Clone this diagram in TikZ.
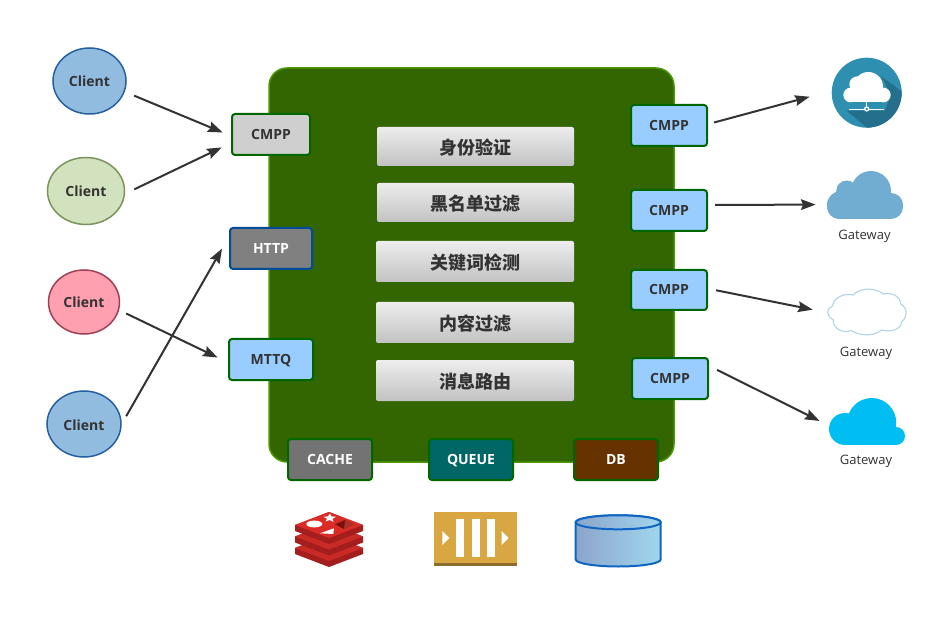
\documentclass[tikz,border=0pt]{standalone}
\usepackage{fontspec}
\setmainfont{Open Sans}
\newfontfamily\cjk{Noto Sans CJK SC}
\usetikzlibrary{arrows.meta,shapes.geometric}
\definecolor{ink}{HTML}{333333}
\definecolor{edgegreen}{HTML}{006600}
\definecolor{sky}{HTML}{99CCFF}
\definecolor{panelfill}{RGB}{51,102,0}
\definecolor{paneledge}{RGB}{77,153,0}
\definecolor{bluefill}{RGB}{146,187,224}
\definecolor{blueedge}{RGB}{38,96,158}
\definecolor{greenfill}{RGB}{211,226,190}
\definecolor{greenedge}{RGB}{122,148,92}
\definecolor{pinkfill}{RGB}{255,160,176}
\definecolor{pinkedge}{RGB}{160,64,84}
\definecolor{lightgrey}{RGB}{207,207,207}
\definecolor{midgrey}{RGB}{128,128,128}
\definecolor{httpedge}{RGB}{0,76,153}
\definecolor{cachefill}{RGB}{115,115,115}
\definecolor{queuefill}{RGB}{0,102,102}
\definecolor{dbfill}{RGB}{102,51,0}
\definecolor{netblue}{RGB}{46,143,176}
\definecolor{netshadow}{RGB}{36,112,140}
\definecolor{cloudblue}{RGB}{113,173,208}
\definecolor{cloudline}{RGB}{175,212,230}
\definecolor{cloudcyan}{RGB}{0,190,242}
\definecolor{rdark}{HTML}{A41E1E}
\definecolor{rmid}{HTML}{C92A26}
\definecolor{rtop}{HTML}{D92C26}
\definecolor{rhole}{RGB}{122,16,10}
\definecolor{rholelight}{RGB}{170,50,40}
\definecolor{qgold}{RGB}{217,167,65}
\definecolor{qbrown}{RGB}{140,109,48}
\definecolor{cylleft}{RGB}{140,165,203}
\definecolor{cylright}{RGB}{160,214,238}
\definecolor{cyledge}{RGB}{14,102,194}
\definecolor{bartop}{gray}{0.93}
\definecolor{barbottom}{gray}{0.76}
\tikzset{
  lbl/.style={font=\fontsize{10.5}{12}\selectfont\bfseries,text=ink,text height=7.5pt,text depth=0pt},
  client/.style={ellipse,lbl,text height=9pt,draw,line width=1.5*.75pt,inner sep=0pt},
  proto/.style={rectangle,rounded corners=3*.75pt,draw=edgegreen,line width=2*.75pt,lbl,inner sep=0pt,minimum width=76*.75pt,minimum height=41*.75pt},
  store/.style={proto,text=white,minimum width=84*.75pt},
  bar/.style={rectangle,rounded corners=2*.75pt,top color=bartop,bottom color=barbottom,inner sep=0pt,text=ink,font=\cjk\fontsize{13.5}{16}\selectfont\bfseries,text height=12.4pt,text depth=0pt,minimum width=197*.75pt},
  hold/.style={rectangle,inner sep=0pt},
  gw/.style={font=\fontsize{9.75}{12}\selectfont,text=ink,inner sep=0pt},
  link/.style={draw=ink,line width=1.5pt,-{Stealth[length=11pt,width=8pt,inset=1.5pt]}},
  cyl/.style={left color=cylleft,right color=cylright,draw=cyledge,line width=1.5pt},
}
\begin{document}
\begin{tikzpicture}[x=.75pt,y=-.75pt]
\useasboundingbox (0,0) rectangle (938,623);
\fill[white] (0,0) rectangle (938,623);

% core panel
\node[rectangle,rounded corners=18*.75pt,fill=panelfill,draw=paneledge,line width=1.5*.75pt,inner sep=0pt,minimum width=405*.75pt,minimum height=394*.75pt] (core) at (471.5,265) {};

% filter bars
\node[bar,minimum height=39*.75pt] (b1) at (475.5,146.5) {身份验证};
\node[bar,minimum height=39*.75pt] (b2) at (475.5,202.5) {黑名单过滤};
\node[bar,minimum width=198*.75pt,minimum height=41*.75pt] (b3) at (475,261.5) {关键词检测};
\node[bar,minimum width=198*.75pt,minimum height=41*.75pt] (b4) at (475,322.5) {内容过滤};
\node[bar,minimum width=198*.75pt,minimum height=41*.75pt] (b5) at (475,380.5) {消息路由};

% clients
\node[client,fill=bluefill,draw=blueedge,minimum width=73*.75pt,minimum height=66*.75pt] (c1) at (89.5,81) {Client};
\node[client,fill=greenfill,draw=greenedge,minimum width=77*.75pt,minimum height=67*.75pt] (c2) at (86,191) {Client};
\node[client,fill=pinkfill,draw=pinkedge,minimum width=71*.75pt,minimum height=64*.75pt] (c3) at (84,302) {Client};
\node[client,fill=bluefill,draw=blueedge,minimum width=74*.75pt,minimum height=66*.75pt] (c4) at (84,424) {Client};

% left protocol boxes
\node[proto,fill=lightgrey,minimum width=78*.75pt] (cmppa) at (271,134.5) {CMPP};
\node[proto,fill=midgrey,draw=httpedge,text=white,minimum width=82*.75pt] (http) at (271,248.5) {HTTP};
\node[proto,fill=sky,minimum width=84*.75pt] (mttq) at (271,359.5) {MTTQ};

% right protocol boxes
\node[proto,fill=sky] (cmppb) at (669,125.5) {CMPP};
\node[proto,fill=sky] (cmppc) at (669,210.5) {CMPP};
\node[proto,fill=sky,minimum height=40*.75pt] (cmppd) at (669,290) {CMPP};
\node[proto,fill=sky] (cmppe) at (670,378.5) {CMPP};

% storage boxes
\node[store,fill=cachefill] (cache) at (330,459.5) {CACHE};
\node[store,fill=queuefill] (queue) at (471,459.5) {QUEUE};
\node[store,fill=dbfill] (db) at (616,459.5) {DB};

% network cloud icon
\node[circle,fill=netblue,inner sep=0pt,minimum size=70*.75pt] (net) at (866.7,92.7) {};
\begin{scope}[shift={(800,40)},x=.25pt,y=-.25pt]
  \begin{scope}
    \clip (200,158) circle[radius=105];
    \fill[netshadow] (245,110) -- (320,165) -- (320,275) -- (215,275) -- (140,212) -- (255,212) -- (272,165) -- cycle;
  \end{scope}
  \fill[white] (205,140) circle[radius=44];
  \fill[white] (172,133) circle[radius=24];
  \fill[white] (152,165) circle[radius=22];
  \fill[white] (250,165) circle[radius=22];
  \fill[white] (152,143) rectangle (250,187);
  \draw[white,line width=1pt] (200,187) -- (200,207);
  \draw[white,line width=1pt] (147,208) -- (253,208);
  \fill[white] (200,207) circle[radius=8];
  \fill[netblue] (200,207) circle[radius=4];
\end{scope}

% solid blue-grey cloud
\node[hold,minimum width=76*.75pt,minimum height=48*.75pt] (gwa) at (865,195) {};
\fill[cloudblue] (871,191) circle[radius=20];
\fill[cloudblue] (846.7,191) circle[radius=10.5];
\fill[cloudblue,rounded corners=9pt] (827,193) rectangle (903,219);
\fill[cloudblue] (841,205) circle[radius=14];
\node[gw] (tga) at (864.5,236) {Gateway};

% outline cloud
\node[hold,minimum width=78*.75pt,minimum height=46*.75pt] (gwb) at (867,312) {};
\begin{scope}[shift={(810,280)},x=.25pt,y=-.25pt]
  \draw[fill=white,draw=cloudline,line width=.8pt]
    (70,120) .. controls (45,105) and (50,85) .. (68,78)
    .. controls (70,52) and (105,38) .. (130,45)
    .. controls (150,22) and (195,22) .. (220,42)
    .. controls (245,35) and (272,50) .. (272,72)
    .. controls (295,85) and (292,112) .. (275,125)
    .. controls (275,148) and (240,158) .. (215,150)
    .. controls (190,170) and (150,168) .. (125,152)
    .. controls (95,160) and (68,145) .. (70,120) -- cycle;
\end{scope}
\node[gw] (tgb) at (866,353) {Gateway};

% bright cloud
\node[hold,minimum width=76*.75pt,minimum height=47*.75pt] (gwc) at (867,421.5) {};
\begin{scope}
  \clip (820,390) rectangle (910,444.9);
  \fill[cloudcyan] (871.7,422.5) circle[radius=24.5];
\end{scope}
\fill[cloudcyan] (845,429) circle[radius=16];
\fill[cloudcyan] (896,436) circle[radius=9];
\fill[cloudcyan] (845,430) rectangle (896,445);
\node[gw] (tgc) at (866,461) {Gateway};

% redis icon
\foreach \d/\c in {23/rmid,11.5/rmid,0/rtop}{
  \fill[rdark] (295,525+\d) -- (329,512+\d) -- (363,525+\d) -- (363,531+\d) -- (329,544+\d) -- (295,531+\d) -- cycle;
  \fill[\c] (295,525+\d) -- (329,512+\d) -- (363,525+\d) -- (329,538+\d) -- cycle;
}
\fill[white] (314.3,524) ellipse[x radius=8,y radius=3.4];
\fill[white] (330,513.5) -- (331.3,516.3) -- (336,516.8) -- (332.5,518.8) -- (333.5,522) -- (329.7,520) -- (325.5,521.5) -- (327,518.8) -- (323.5,516.8) -- (328,516.3) -- cycle;
\fill[white] (320,533.3) -- (334,528.3) -- (333.3,534) -- cycle;
\fill[rhole] (335,524.3) -- (345,520) -- (353.3,524.3) -- (344,529) -- cycle;
\fill[rholelight] (345,520) -- (353.3,524.3) -- (344,529) -- cycle;

% queue icon
\fill[qgold] (434.3,512) rectangle (516.7,566);
\fill[qbrown] (434.3,562.5) rectangle (516.7,566);
\fill[white] (455.7,519) rectangle (464,556.7);
\fill[white] (471.7,519) rectangle (480.3,556.7);
\fill[white] (486.7,519) rectangle (495.3,556.7);
\fill[white] (442.3,531) -- (449.3,538) -- (442.3,545) -- cycle;
\fill[white] (501.7,531) -- (508.7,538) -- (501.7,545) -- cycle;

% database cylinder
\draw[cyl] (575.7,522.3) -- (575.7,559.5) arc[start angle=180,end angle=0,x radius=42.5,y radius=7] -- (660.7,522.3) arc[start angle=0,end angle=-180,x radius=42.5,y radius=7] -- cycle;
\draw[cyl] (618.2,522.3) ellipse[x radius=42.5,y radius=7];

% connectors
\draw[link,shorten <=7.6pt,shorten >=6.7pt] (c1.-17) -- (cmppa.182.2);
\draw[link,shorten <=7.6pt,shorten >=7.7pt] (c2.-4) -- (cmppa.192);
\draw[link,shorten <=5.9pt,shorten >=8.6pt] (c3.-13.6) -- (mttq.184.4);
\draw[link,shorten <=6.7pt,shorten >=10.5pt] (c4.0) -- (http.164.7);
\draw[link,shorten <=4.7pt,shorten >=17pt] (cmppb.2.6) -- (net.177);
\draw[link,shorten <=5.3pt,shorten >=8.3pt] (cmppc.8.2) -- (gwa.194.7);
\draw[link,shorten <=6.2pt,shorten >=11.5pt] (cmppd.2.9) -- (gwb.181.9);
\draw[link,shorten <=6.8pt,shorten >=7.7pt] (cmppe.18.9) -- (gwc.186.8);
\end{tikzpicture}
\end{document}
